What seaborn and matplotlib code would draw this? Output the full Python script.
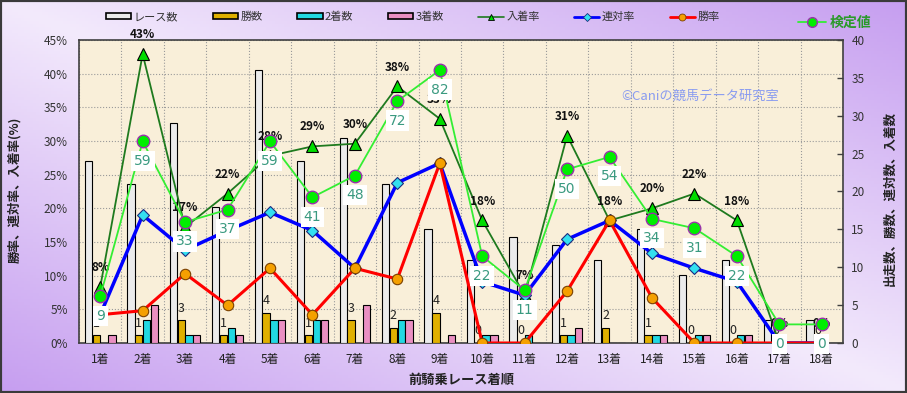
import numpy as np
import pandas as pd
import matplotlib
matplotlib.use("Agg")
import matplotlib.pyplot as plt
import seaborn as sns
from matplotlib.lines import Line2D
from matplotlib.patches import Rectangle

# ---------------- data ----------------
categories = ["1着", "2着", "3着", "4着", "5着", "6着", "7着", "8着", "9着",
              "10着", "11着", "12着", "13着", "14着", "15着", "16着", "17着", "18着"]
races  = [24, 21, 29, 18, 36, 24, 27, 21, 15, 11, 14, 13, 11, 15, 9, 11, 3, 3]
wins   = [1, 1, 3, 1, 4, 1, 3, 2, 4, 0, 0, 1, 2, 1, 0, 0, 0, 0]
second = [0, 3, 1, 2, 3, 3, 0, 3, 0, 1, 1, 1, 0, 1, 1, 1, 0, 0]
third  = [1, 5, 1, 1, 3, 3, 5, 3, 1, 1, 0, 2, 0, 1, 1, 1, 0, 0]
place_rate = [8.3, 42.9, 17.2, 22.2, 27.8, 29.2, 29.6, 38.1, 33.3, 18.2, 7.1, 30.8, 18.2, 20.0, 22.2, 18.2, 0, 0]
place_labels = ["8%", "43%", "17%", "22%", "28%", "29%", "30%", "38%", "33%", "18%", "7%", "31%",
                "18%", "20%", "22%", "18%", "0%", "0%"]
quinella_rate = [4.2, 19.0, 13.8, 16.7, 19.4, 16.7, 11.1, 23.8, 26.7, 9.1, 7.1, 15.4, 18.2, 13.3, 11.1, 9.1, 0, 0]
win_rate = [4.2, 4.8, 10.3, 5.6, 11.1, 4.2, 11.1, 9.5, 26.7, 0, 0, 7.7, 18.2, 6.7, 0, 0, 0, 0]
test_value = [9, 59, 33, 37, 59, 41, 48, 72, 82, 22, 11, 50, 54, 34, 31, 22, 0, 0]

bar_series = ["レース数", "勝数", "2着数", "3着数"]
line_series = ["入着率", "連対率", "勝率"]
left_ticks = [0, 5, 10, 15, 20, 25, 30, 35, 40, 45]
right_ticks = [0, 5, 10, 15, 20, 25, 30, 35, 40]

bar_colors = ["#ebebeb", "#e0b000", "#22d8e2", "#ea8fc2"]

# ---------------- style ----------------
sns.set_theme(style="white")
plt.rcParams["font.family"] = ["Noto Sans CJK JP", "DejaVu Sans"]
plt.rcParams["axes.unicode_minus"] = False

fig = plt.figure(figsize=(9.07, 3.93), dpi=100)

# background gradient (light on main diagonal, purple at off corners)
bg = fig.add_axes([0, 0, 1, 1], zorder=-10)
gx, gy = np.meshgrid(np.linspace(0, 1, 300), np.linspace(0, 1, 130))
t = np.abs(gx - gy)
light = np.array([0xf3, 0xea, 0xfc]) / 255
dark = np.array([0xc6, 0x9e, 0xf0]) / 255
img = light[None, None, :] * (1 - t[..., None]) + dark[None, None, :] * t[..., None]
bg.imshow(img, aspect="auto", extent=[0, 1, 0, 1], origin="upper")
bg.set_xlim(0, 1); bg.set_ylim(0, 1)
bg.set_xticks([]); bg.set_yticks([])
for s in bg.spines.values():
    s.set_color("#3a3a3a"); s.set_linewidth(3)

# main axes (percent scale, grid, background)
L, R, T, B = 79, 843, 40, 343
ax = fig.add_axes([L / 907, 1 - B / 393, (R - L) / 907, (B - T) / 393])
ax.set_zorder(1)
ax.set_facecolor("#f9efd9")

# bars (count scale, right)
axb = ax.twinx()
axb.set_zorder(2)
df = pd.DataFrame({
    "cat": categories * 4,
    "series": sum([[s] * len(categories) for s in bar_series], []),
    "val": races + wins + second + third,
})
sns.barplot(data=df, x="cat", y="val", hue="series", order=categories, hue_order=bar_series,
            palette=bar_colors, width=0.736, gap=0.07, edgecolor="black", linewidth=0.8,
            saturation=1, errorbar=None, legend=False, ax=axb)
axb.bar_label(axb.containers[1], labels=[str(v) for v in wins], padding=4, fontsize=9, color="#222222")
axb.set_ylim(0, 40)
axb.set_yticks(right_ticks)
axb.set_ylabel(""); axb.set_xlabel("")
axb.tick_params(axis="y", direction="in", length=4, width=1, color="#404040", pad=6,
                labelsize=8.5, labelcolor="#333333")
for s in axb.spines.values():
    s.set_visible(False)

# rate lines (percent scale)
axl = ax.twinx()
axl.set_zorder(3)
xpos = np.arange(len(categories))
sns.lineplot(x=xpos, y=place_rate, ax=axl, color="#1e7a1e", linewidth=1.3, marker="^",
             markersize=9, markerfacecolor="#00dd00", markeredgecolor="black", markeredgewidth=0.8)
sns.lineplot(x=xpos, y=quinella_rate, ax=axl, color="#0000ff", linewidth=2.5, marker="D",
             markersize=6.5, markerfacecolor="#33e0f0", markeredgecolor="#1a2a80", markeredgewidth=0.8)
sns.lineplot(x=xpos, y=win_rate, ax=axl, color="#ff0000", linewidth=2.2, marker="o",
             markersize=7.5, markerfacecolor="#f5a000", markeredgecolor="#7a4000", markeredgewidth=0.8)
for i, (v, lab) in enumerate(zip(place_rate, place_labels)):
    axl.annotate(lab, (i, v), xytext=(0, 14), textcoords="offset points", ha="center", va="center",
                 fontsize=8.5, fontweight="bold", color="#111111")
axl.set_ylim(0, 45)
axl.set_axis_off()

# test value (hidden scale)
axk = ax.twinx()
axk.set_zorder(4)
sns.lineplot(x=xpos, y=test_value, ax=axk, color="#33ee33", linewidth=1.3, marker="o",
             markersize=9, markerfacecolor="#00ee00", markeredgecolor="#9933aa", markeredgewidth=1)
for i, v in enumerate(test_value):
    axk.annotate(str(v), (i, v), xytext=(0, -14), textcoords="offset points", ha="center", va="center",
                 fontsize=10, color="#3a9a80", family=["DejaVu Sans"],
                 bbox=dict(boxstyle="square,pad=0.22", fc="white", ec="none"))
axk.set_ylim(-6.0, 91.7)
axk.set_axis_off()

# main axes formatting
ax.set_xlim(-0.5, len(categories) - 0.5)
ax.set_ylim(0, 45)
ax.set_yticks(left_ticks)
ax.set_yticklabels([f"{v}%" for v in left_ticks])
ax.set_xticks(xpos)
ax.set_xticklabels(categories)
ax.set_xticks(np.arange(-0.5, len(categories), 1), minor=True)
ax.tick_params(axis="y", length=0, pad=8, labelsize=8.5, labelcolor="#333333")
ax.tick_params(axis="x", which="both", length=0, pad=7, labelsize=8.5, labelcolor="#222222")
ax.yaxis.grid(True, linestyle=":", color="#9a9a9a", linewidth=0.8)
ax.xaxis.grid(True, which="minor", linestyle=":", color="#9a9a9a", linewidth=0.8)
ax.xaxis.grid(False, which="major")
ax.set_axisbelow(True)
for s in ax.spines.values():
    s.set_visible(True); s.set_color("#404040"); s.set_linewidth(1.2)

# watermark
ax.text(700 / 907, 1 - 96 / 393, "©Caniの競馬データ研究室", transform=fig.transFigure,
        ha="center", va="center", fontsize=9.5, color="#8a9cf0")

# axis titles
fig.text(15 / 907, 1 - 190 / 393, "勝率、連対率、入着率(%)", rotation=90, ha="center", va="center",
         fontsize=9, fontweight="bold", color="#222222")
fig.text(890 / 907, 1 - 199 / 393, "出走数、勝数、連対数、入着数", rotation=90, ha="center", va="center",
         fontsize=9, fontweight="bold", color="#222222")
fig.text(461 / 907, 1 - 380 / 393, "前騎乗レース着順", ha="center", va="center",
         fontsize=9.5, fontweight="bold", color="#222222")

# legends
handles = [Rectangle((0, 0), 1, 1, fc=c, ec="black", lw=1.2) for c in bar_colors]
handles += [
    Line2D([], [], color="#1e7a1e", lw=1.2, marker="^", ms=5, mfc="#00dd00", mec="black", mew=0.6),
    Line2D([], [], color="#0000ff", lw=2, marker="D", ms=4, mfc="#33e0f0", mec="#1a2a80", mew=0.6),
    Line2D([], [], color="#ff0000", lw=2, marker="o", ms=5, mfc="#f5a000", mec="#7a4000", mew=0.6),
]
fig.legend(handles, bar_series + line_series, loc="center", bbox_to_anchor=(0.455, 1 - 17 / 393),
           ncol=7, frameon=False, fontsize=8, handlelength=2.3, handleheight=0.5,
           columnspacing=3.1, handletextpad=0.2, labelcolor="#333333")
fig.legend([Line2D([], [], color="#33ee33", lw=1.3, marker="o", ms=7, mfc="#00ee00", mec="#9933aa", mew=1)],
           ["検定値"], loc="center", bbox_to_anchor=(835 / 907, 1 - 23 / 393), frameon=False,
           prop=dict(size=10, weight="bold"), labelcolor="#2a9a2a", handlelength=2.0, handletextpad=0.3)

fig.savefig("out.png", dpi=100)
